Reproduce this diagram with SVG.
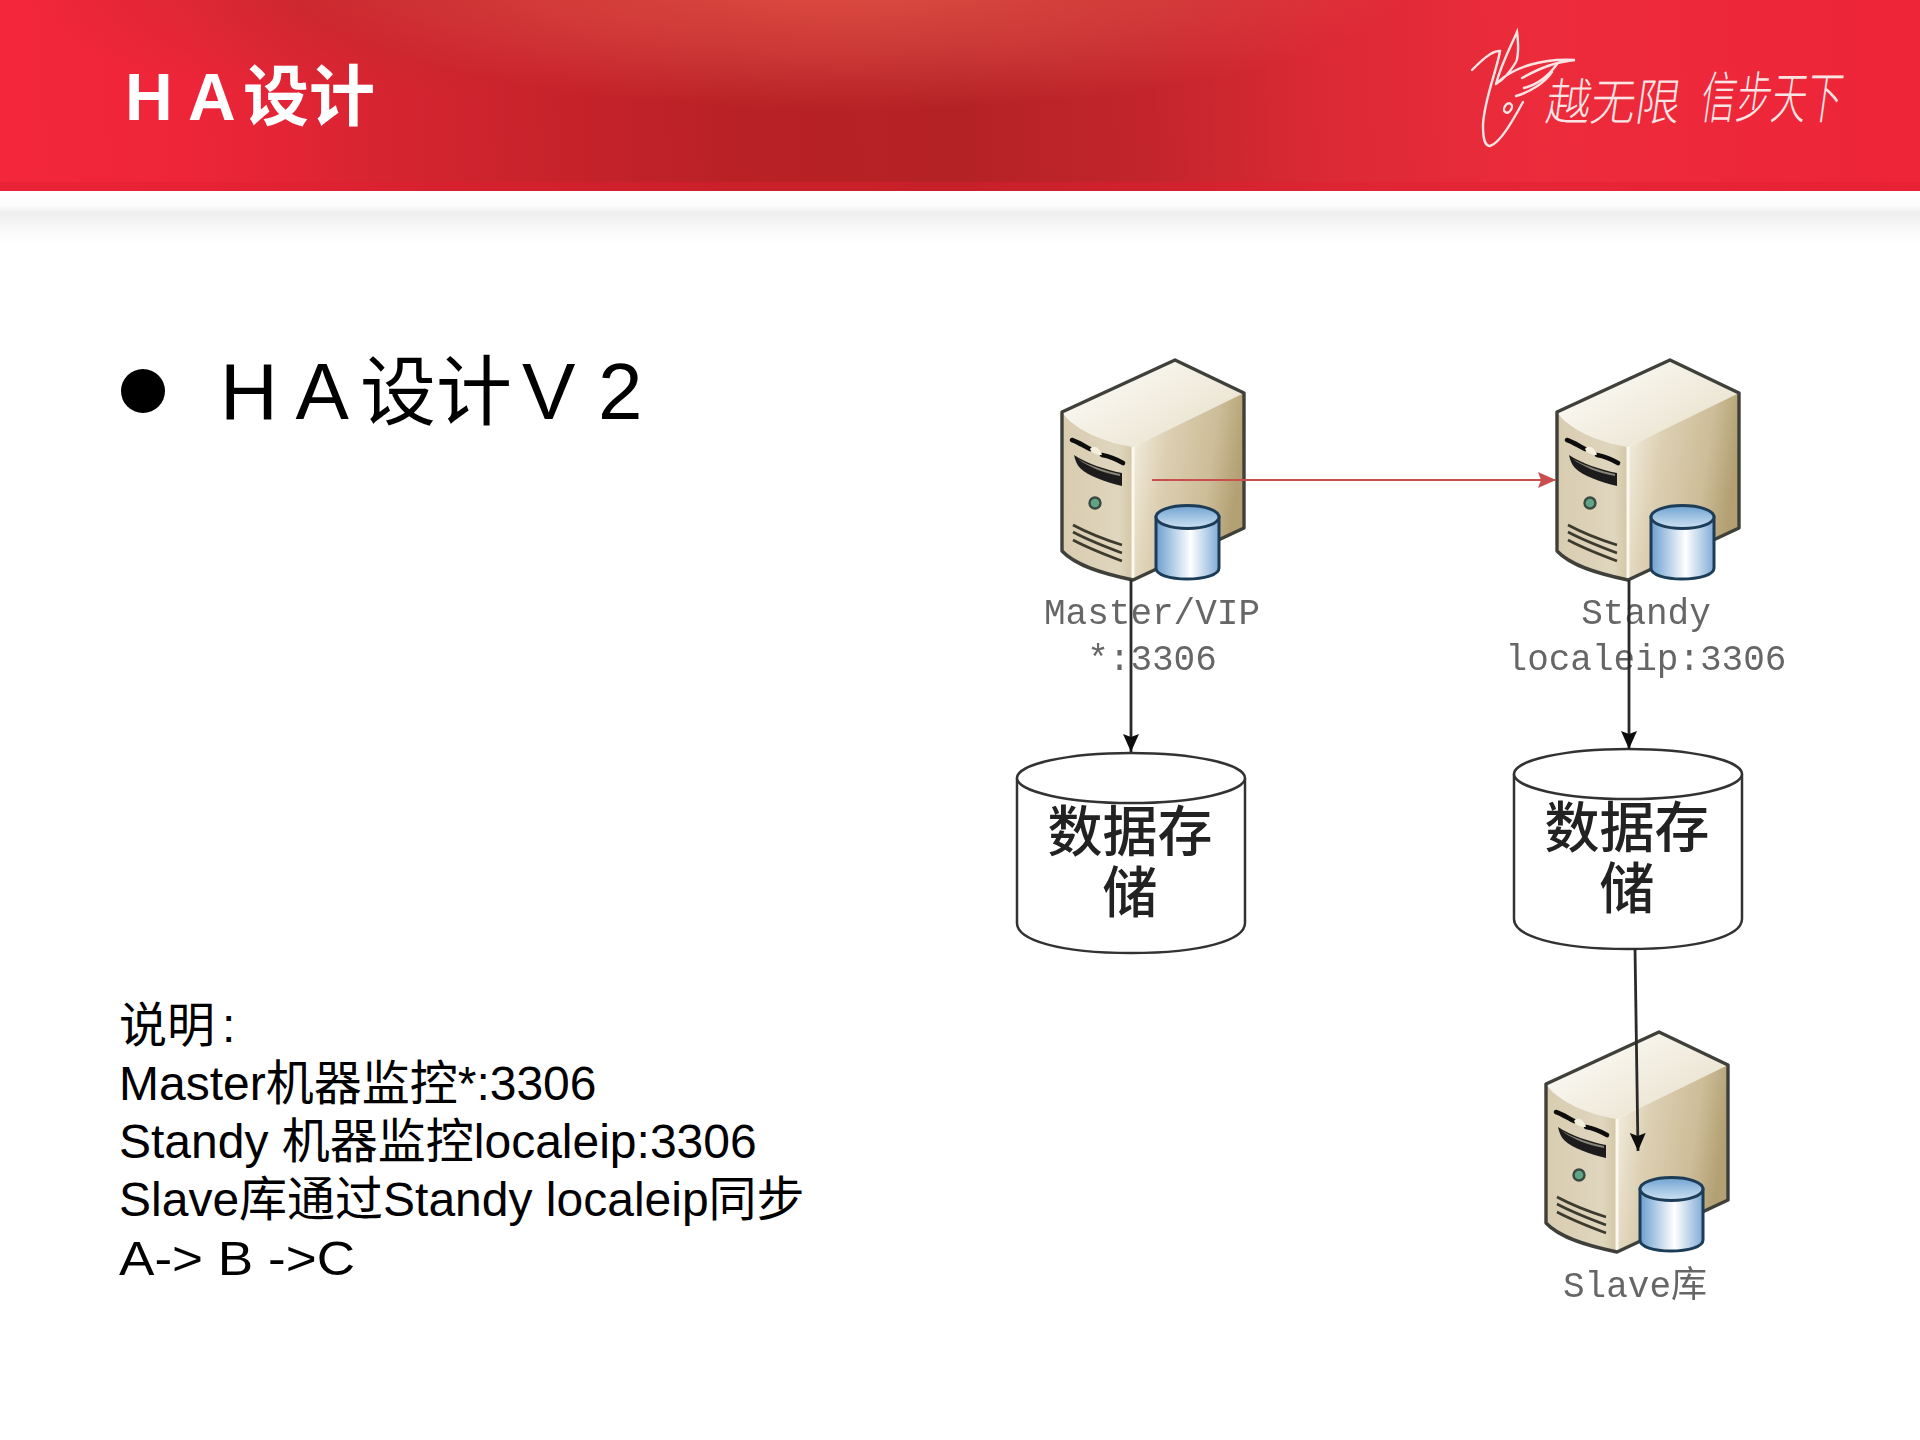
<svg xmlns="http://www.w3.org/2000/svg" width="1920" height="1440" viewBox="0 0 1920 1440">
<style>
.title{font-family:"Liberation Sans","Noto Sans CJK SC",sans-serif;font-weight:700;font-size:66px;fill:#fff}
.head{font-family:"Liberation Sans","Noto Sans CJK SC",sans-serif;font-size:80px;fill:#000}
.headc{font-size:76px}
.note{font-family:"Liberation Sans","Noto Sans CJK SC",sans-serif;font-size:48px;fill:#000}
.lbl{font-family:"Liberation Mono","Noto Sans CJK SC",monospace;font-size:36px;fill:#666;text-anchor:middle}
.store{font-family:"Noto Sans CJK SC",sans-serif;font-size:55px;font-weight:500;fill:#222;text-anchor:middle}
.sign{font-family:"Noto Sans CJK SC",sans-serif;font-size:40px;font-weight:300;fill:#fbe4e4}
.swoosh{fill:none;stroke:#fbe4e4;stroke-width:2.4;stroke-linecap:round}
.cyl{fill:#fff;stroke:#333;stroke-width:2.5}
.conn{fill:none;stroke:#2b2b2b;stroke-width:2.8}
.grill{fill:none;stroke:#3e3a2e;stroke-width:2.6}
</style>
<defs>
<linearGradient id="hdr" gradientUnits="userSpaceOnUse" x1="0" y1="120" x2="1920" y2="40">
<stop offset="0" stop-color="#f3263c"/><stop offset=".1" stop-color="#ee2539"/><stop offset=".22" stop-color="#d22430"/><stop offset=".38" stop-color="#b92126"/><stop offset=".5" stop-color="#b42226"/><stop offset=".6" stop-color="#c4252d"/><stop offset=".7" stop-color="#de2a36"/><stop offset=".8" stop-color="#ec2b3b"/><stop offset="1" stop-color="#ee2438"/>
</linearGradient>
<radialGradient id="glow" gradientUnits="userSpaceOnUse" cx="0" cy="0" r="1" gradientTransform="translate(850 -20) scale(560 130)">
<stop offset="0" stop-color="#ee5f4e" stop-opacity=".75"/><stop offset=".55" stop-color="#e5564a" stop-opacity=".45"/><stop offset="1" stop-color="#e5564a" stop-opacity="0"/>
</radialGradient>
<radialGradient id="tl" gradientUnits="userSpaceOnUse" cx="0" cy="0" r="1" gradientTransform="translate(350 -10) scale(320 110)">
<stop offset="0" stop-color="#bb2c2a" stop-opacity=".6"/><stop offset="1" stop-color="#bb2c2a" stop-opacity="0"/>
</radialGradient>
<linearGradient id="shadow" x1="0" x2="0" y1="0" y2="1"><stop offset="0" stop-color="#fff"/><stop offset=".28" stop-color="#fbfbfb"/><stop offset=".4" stop-color="#eeeeee"/><stop offset=".7" stop-color="#f9f9f9"/><stop offset="1" stop-color="#fff"/></linearGradient>
<linearGradient id="topF" x1="0" x2="1" y1="0" y2=".8"><stop offset="0" stop-color="#fff"/><stop offset=".5" stop-color="#f3efe3"/><stop offset="1" stop-color="#e8e0cc"/></linearGradient>
<linearGradient id="leftF" x1="0" x2="1" y1="0" y2="0"><stop offset="0" stop-color="#d8ccb0"/><stop offset=".8" stop-color="#e0d6be"/><stop offset="1" stop-color="#d3c6a6"/></linearGradient>
<linearGradient id="rightF" x1="0" x2="1" y1="0" y2=".25"><stop offset="0" stop-color="#f6f1e4"/><stop offset=".35" stop-color="#dccfb2"/><stop offset=".75" stop-color="#cdbd98"/><stop offset="1" stop-color="#b3a073"/></linearGradient>
<linearGradient id="cylS" x1="0" x2="1" y1="0" y2="0"><stop offset="0" stop-color="#6b9fcf"/><stop offset=".55" stop-color="#fff"/><stop offset="1" stop-color="#7fabd6"/></linearGradient>
<linearGradient id="cylT" x1="0" x2="0" y1="0" y2="1"><stop offset="0" stop-color="#6fa3d2"/><stop offset="1" stop-color="#cfe2f2"/></linearGradient>
<filter id="soft2" x="-5%" y="-5%" width="110%" height="110%"><feGaussianBlur stdDeviation=".7"/></filter>
<marker id="arrK" markerUnits="userSpaceOnUse" markerWidth="20" markerHeight="18" refX="18" refY="8" orient="auto"><path d="M0 0L18 8L0 16L3 8Z" fill="#111"/></marker>
<marker id="arrR" markerUnits="userSpaceOnUse" markerWidth="20" markerHeight="18" refX="18" refY="8" orient="auto"><path d="M0 0L18 8L0 16L3 8Z" fill="#c9504f"/></marker>
<g id="server">
<path d="M0 52L113 0L182 33L71 87C42 82 12 70 0 52Z" fill="url(#topF)"/>
<path d="M0 52C12 70 42 82 71 87V220C42 214 14 206 0 191Z" fill="url(#leftF)"/>
<path d="M71 87L182 33V168L71 220Z" fill="url(#rightF)"/>
<path d="M71 87V220" stroke="#fbf8ee" stroke-width="3" fill="none"/>
<path d="M0 52L113 0L182 33V168L71 220C42 214 14 206 0 191Z" fill="none" stroke="#3f3f3b" stroke-width="3.4" stroke-linejoin="round"/>
<path d="M10 80C16 82 22 86 28 89M40 95C46 96 54 99 61 103" fill="none" stroke="#111" stroke-width="4.6" stroke-linecap="round"/>
<path d="M28 89C32 84 38 88 40 95C34 95 30 93 28 89Z" fill="#f4eedd"/>
<path d="M12 95C24 103 44 110 60 113V126C44 122 26 116 18 108C15 105 13 100 12 95Z" fill="#1f1e1a"/>
<path d="M16 99C28 106 44 111 58 114V116C42 113 26 107 16 99Z" fill="#efe9d8" opacity=".5"/>
<circle cx="33" cy="143" r="5.500" fill="#5da585" stroke="#3b4a40" stroke-width="2.4"/>
<path class="grill" d="M11 165C26 173 44 180 60 185M11 172C26 180 44 187 60 193M11 180C26 188 44 195 60 201"/>
<path d="M94 157V208C94 215 108 219 125 219S157 215 157 208V157Z" fill="url(#cylS)" stroke="#1f3c58" stroke-width="3"/>
<ellipse cx="125.500" cy="157" rx="31.500" ry="11.500" fill="url(#cylT)" stroke="#1f3c58" stroke-width="3"/>
</g>
<g id="storage">
<path class="cyl" d="M0 25V170C0 187 42 200 114 200S228 187 228 170V25"/>
<ellipse class="cyl" cx="114" cy="25" rx="114" ry="25"/>
</g>
</defs>

<rect x="0" y="0" width="1920" height="191" fill="url(#hdr)"/>
<rect x="0" y="0" width="1920" height="191" fill="url(#tl)"/>
<rect x="0" y="0" width="1920" height="191" fill="url(#glow)"/>
<rect x="0" y="182" width="1920" height="9" fill="#e01f30" opacity=".45"/>
<rect x="0" y="191" width="1920" height="54" fill="url(#shadow)"/>

<text class="title" x="125" y="120" xml:space="preserve">H <tspan x="188">A</tspan><tspan x="243">设计</tspan></text>

<g id="logo">
<path class="swoosh" d="M1472 70C1480 62 1492 50 1500 51C1497 70 1484 100 1483 125C1483 140 1485 146 1490 146C1500 143 1512 122 1523 102"/>
<path class="swoosh" d="M1496 84C1502 62 1512 44 1517 32C1519 46 1518 58 1516 62C1510 72 1503 80 1496 84C1514 66 1545 58 1575 60C1555 62 1540 68 1522 78M1524 88C1540 84 1550 74 1557 64M1516 96C1530 92 1546 82 1552 72"/>
<ellipse class="swoosh" cx="1508" cy="108" rx="3.500" ry="5" transform="rotate(30 1508 108)"/>
<text class="sign" transform="translate(1544 120) skewX(-8) scale(1.12 1.25)">越无限</text>
<text class="sign" transform="translate(1699 118) skewX(-8) scale(.88 1.4)">信步天下</text>
</g>

<circle cx="143" cy="391" r="22" fill="#000"/>
<text class="head" x="220" y="419" xml:space="preserve">H A<tspan class="headc" x="360">设计</tspan><tspan x="522">V</tspan><tspan x="598">2</tspan></text>

<g id="notes">
<text class="note" x="119" y="1042">说明<tspan x="222">:</tspan></text>
<text class="note" x="119" y="1100">Master机器监控*:3306</text>
<text class="note" x="119" y="1158" xml:space="preserve">Standy 机器监控localeip:3306</text>
<text class="note" x="119" y="1216" xml:space="preserve">Slave库通过Standy localeip同步</text>
<text class="note" x="119" y="1275" xml:space="preserve" textLength="236" lengthAdjust="spacingAndGlyphs">A-&gt; B -&gt;C</text>
</g>

<g id="node-master" filter="url(#soft2)">
<use href="#server" x="1062" y="360"/>
<text class="lbl" x="1152" y="624">Master/VIP</text>
<text class="lbl" x="1152" y="670">*:3306</text>
</g>
<g id="node-standy" filter="url(#soft2)">
<use href="#server" x="1557" y="360"/>
<text class="lbl" x="1646" y="624">Standy</text>
<text class="lbl" x="1646" y="670">localeip:3306</text>
</g>
<g id="node-store-a" filter="url(#soft2)">
<use href="#storage" x="1017" y="753"/>
<text class="store" x="1130" y="851">数据存</text>
<text class="store" x="1130" y="912">储</text>
</g>
<g id="node-store-b" filter="url(#soft2)">
<use href="#storage" x="1514" y="749"/>
<text class="store" x="1627" y="847">数据存</text>
<text class="store" x="1627" y="908">储</text>
</g>
<g id="node-slave" filter="url(#soft2)">
<use href="#server" x="1546" y="1032"/>
<text class="lbl" x="1635" y="1297">Slave库</text>
</g>

<g id="connectors" filter="url(#soft2)">
<path class="conn" d="M1131 580V752" marker-end="url(#arrK)"/>
<path class="conn" d="M1629 580V749" marker-end="url(#arrK)"/>
<path class="conn" d="M1635 948L1638 1151" marker-end="url(#arrK)"/>
<path d="M1152 480H1556" fill="none" stroke="#c9504f" stroke-width="2" marker-end="url(#arrR)"/>
</g>
</svg>
